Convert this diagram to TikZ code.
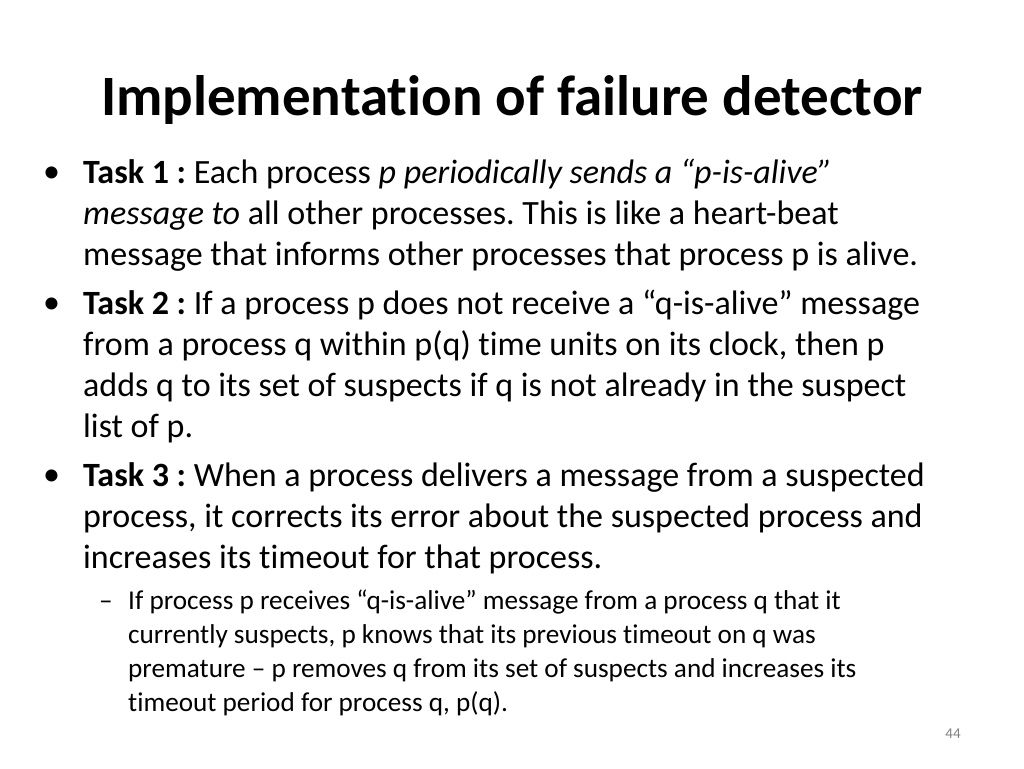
\documentclass[tikz,border=0pt]{standalone}
\usepackage{fontspec}
\setmainfont{Carlito}[Ligatures=NoCommon]
\begin{document}
\frenchspacing
\begin{tikzpicture}[x=1pt,y=1pt,
  body/.style={anchor=base west,inner sep=0pt,font=\fontsize{34}{36}\selectfont},
  sub/.style={anchor=base west,inner sep=0pt,font=\fontsize{27.2}{29}\selectfont}]
\useasboundingbox (0,0) rectangle (1024,-768);
\node[anchor=base,inner sep=0pt,font=\fontsize{57}{60}\selectfont\bfseries] (title) at (512,-115) {Implementation of failure detector};
\foreach \y/\n in {182/b1,313/b2,485/b3} \node[body] (\n) at (43,-\y) {•};
\node[body] (l1) at (83,-183) {\textbf{Task 1 :} Each process \textit{p periodically sends a “p-is-alive”}};
\node[body] (l2) at (83,-224) {\textit{message to} all other processes. This is like a heart-beat};
\node[body] (l3) at (83,-265) {message that informs other processes that process p is alive.};
\node[body] (l4) at (83,-314) {\textbf{Task 2 :} If a process p does not receive a “q-is-alive” message};
\node[body] (l5) at (83,-355) {from a process q within p(q) time units on its clock, then p};
\node[body] (l6) at (83,-396) {adds q to its set of suspects if q is not already in the suspect};
\node[body] (l7) at (83,-437) {list of p.};
\node[body] (l8) at (83,-486) {\textbf{Task 3 :} When a process delivers a message from a suspected};
\node[body] (l9) at (83,-527) {process, it corrects its error about the suspected process and};
\node[body] (l10) at (83,-568) {increases its timeout for that process.};
\node[sub] (d) at (99,-609) {–};
\node[sub] (s1) at (128,-609) {If process p receives “q-is-alive” message from a process q that it};
\node[sub] (s2) at (128,-643) {currently suspects, p knows that its previous timeout on q was};
\node[sub] (s3) at (128,-677) {premature – p removes q from its set of suspects and increases its};
\node[sub] (s4) at (128,-711) {timeout period for process q, p(q).};
\node[anchor=base,inner sep=0pt,font=\fontsize{15}{16}\selectfont,text=gray] (pg) at (953,-738) {44};
\end{tikzpicture}
\end{document}
